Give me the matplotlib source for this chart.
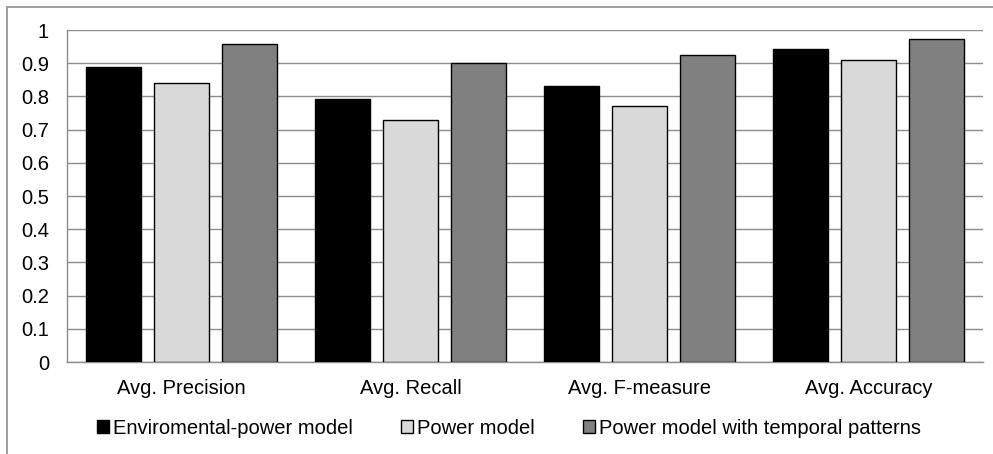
import matplotlib.pyplot as plt
import numpy as np
from matplotlib.patches import Rectangle

categories = ["Avg. Precision", "Avg. Recall", "Avg. F-measure", "Avg. Accuracy"]
series_names = ["Enviromental-power model", "Power model", "Power model with temporal patterns"]
env_power = [0.888, 0.791, 0.830, 0.944]
power = [0.839, 0.729, 0.772, 0.910]
power_temporal = [0.959, 0.900, 0.925, 0.972]
colors = ["#000000", "#d9d9d9", "#808080"]

plt.rcParams["font.family"] = ["Liberation Sans", "DejaVu Sans"]

fig = plt.figure(figsize=(9.93, 4.54), dpi=100)
ax = fig.add_axes([67 / 993, 1 - 362 / 454, 916 / 993, 332 / 454])

# outer chart frame (right/bottom edges fall outside the picture)
fig.patches.append(Rectangle((7 / 993, -0.1), 1.2, (454 - 7) / 454 + 0.1,
                             transform=fig.transFigure, fill=False,
                             edgecolor="#8c8c8c", linewidth=1.2))

x = np.arange(len(categories))
step = 0.297
width = 0.24
for i, (vals, name) in enumerate(zip([env_power, power, power_temporal], series_names)):
    ax.bar(x + (i - 1) * step, vals, width, color=colors[i], edgecolor="black",
           linewidth=1.0, label=name, zorder=3)

ax.set_xlim(-0.5, len(categories) - 0.5)
ax.set_ylim(0, 1)
ax.set_yticks(np.arange(0, 1.01, 0.1))
ax.set_yticklabels(["0", "0.1", "0.2", "0.3", "0.4", "0.5", "0.6", "0.7", "0.8", "0.9", "1"])
ax.set_xticks(x)
ax.set_xticklabels(categories)
ax.tick_params(axis="both", length=0, labelsize=14.5, colors="black")
ax.tick_params(axis="y", pad=13)
ax.tick_params(axis="x", pad=12)
ax.yaxis.grid(True, color="#8c8c8c", linewidth=1.0, zorder=0)
ax.set_axisbelow(True)
for side in ["top", "right"]:
    ax.spines[side].set_visible(False)
for side in ["left", "bottom"]:
    ax.spines[side].set_color("#8c8c8c")
    ax.spines[side].set_linewidth(1.0)

ax.legend(loc="center", bbox_to_anchor=(0.4825, -0.2), ncol=3, frameon=False,
          fontsize=14.5, handlelength=0.6, handleheight=0.6, handletextpad=0.2,
          columnspacing=2.4)

fig.savefig("out.png", dpi=100)
